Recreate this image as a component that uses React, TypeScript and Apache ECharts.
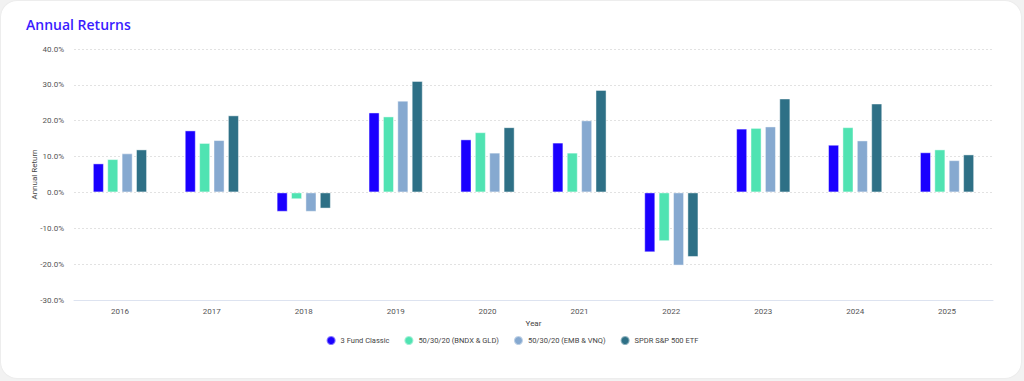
import React, { useEffect, useRef } from "react";
import * as echarts from "echarts";

const years = ["2016", "2017", "2018", "2019", "2020", "2021", "2022", "2023", "2024", "2025"];
const seriesNames = ["3 Fund Classic", "50/30/20 (BNDX & GLD)", "50/30/20 (EMB & VNQ)", "SPDR S&P 500 ETF"];
const threeFund = [8.1, 17.3, -5.4, 22.3, 14.8, 13.9, -16.7, 17.8, 13.3, 11.2];
const bndxGld = [9.3, 13.8, -1.9, 21.2, 16.8, 11.1, -13.6, 18.0, 18.2, 12.0];
const embVnq = [10.9, 14.6, -5.4, 25.6, 11.1, 20.1, -20.4, 18.4, 14.5, 9.0];
const spdr = [12.0, 21.5, -4.5, 31.1, 18.2, 28.6, -18.0, 26.2, 24.8, 10.6];
const colors = ["#1a00ff", "#50e3b2", "#86a9d0", "#2e7086"];

export default function App() {
  const ref = useRef<HTMLDivElement>(null);
  useEffect(() => {
    document.body.style.margin = "0";
    const chart = echarts.init(ref.current!, null, { renderer: "svg" });
    const data = [threeFund, bndxGld, embVnq, spdr];
    chart.setOption({
      animation: false,
      title: {
        text: "Annual Returns",
        left: 21,
        top: 12,
        textStyle: { fontFamily: "Open Sans", fontSize: 14, fontWeight: 600, color: "#3a1cff" },
      },
      legend: {
        bottom: 30,
        left: "center",
        icon: "circle",
        itemWidth: 9,
        itemHeight: 9,
        itemGap: 14,
        textStyle: { fontFamily: "Roboto", fontSize: 7.5, color: "#444" },
        data: seriesNames,
      },
      grid: { left: 74, right: 31, top: 49, bottom: 81 },
      xAxis: {
        type: "category",
        data: years,
        name: "Year",
        nameLocation: "middle",
        nameGap: 19,
        nameMoveOverlap: false,
        nameTextStyle: { fontFamily: "Roboto", fontSize: 8, color: "#444" },
        axisLine: { onZero: false, lineStyle: { color: "#dde3f0" } },
        axisTick: { show: false },
        axisLabel: { fontFamily: "Roboto", fontSize: 8, color: "#555", margin: 7 },
      },
      yAxis: {
        type: "value",
        min: -30,
        max: 40,
        interval: 10,
        name: "Annual Return",
        nameLocation: "middle",
        nameGap: 36,
        nameMoveOverlap: false,
        nameTextStyle: { fontFamily: "Roboto", fontSize: 8, color: "#444" },
        axisLabel: {
          fontFamily: "Roboto",
          fontSize: 8,
          color: "#555",
          margin: 10,
          formatter: (v: number) => v.toFixed(1) + "%",
        },
        splitLine: { lineStyle: { color: "#e2e2e2", type: [2, 2] } },
      },
      series: seriesNames.map((n, i) => ({
        name: n,
        type: "bar",
        data: data[i],
        barGap: "30%",
        barCategoryGap: "41%",
        itemStyle: { color: colors[i], borderColor: "rgba(255,255,255,0.45)", borderWidth: 1 },
      })),
    });
    return () => chart.dispose();
  }, []);
  return (
    <div style={{ position: "relative", width: 1024, height: 381, background: "#f2f2f2" }}>
      <div
        style={{
          position: "absolute",
          left: 1,
          top: 1,
          width: 1020,
          height: 377,
          background: "#fff",
          borderRadius: 16,
          boxShadow: "0 0 2px rgba(0,0,0,0.08)",
        }}
      />
      <div ref={ref} style={{ position: "absolute", left: 0, top: 0, width: 1024, height: 381 }} />
    </div>
  );
}
